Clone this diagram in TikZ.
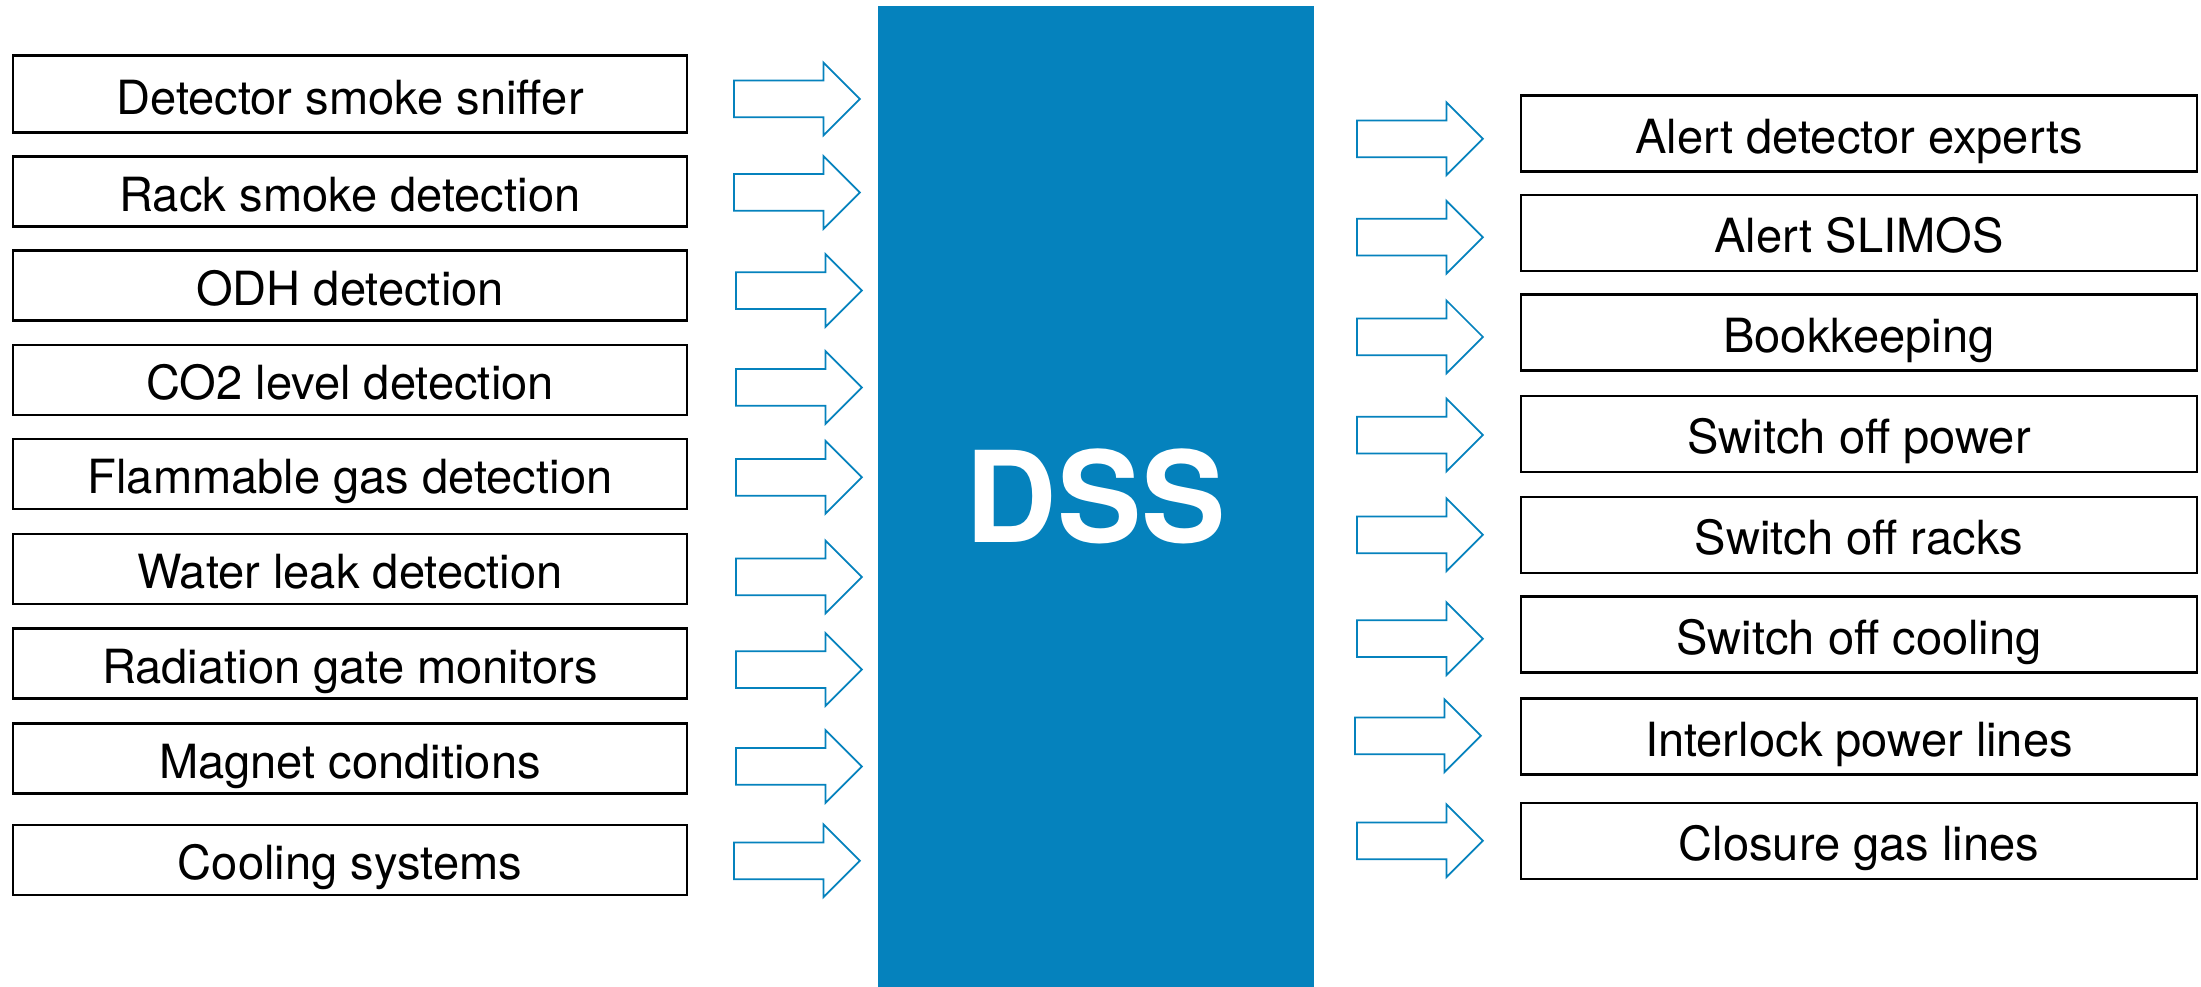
\documentclass[tikz,border=0pt]{standalone}
\usepackage{fontspec}
\setmainfont{TeX Gyre Heros}
\definecolor{dssblue}{HTML}{0582BD}
\usetikzlibrary{shapes.arrows,positioning}

\begin{document}
\begin{tikzpicture}[
  inbox/.style={draw=black, line width=0.7pt, minimum width=6.74cm,
    minimum height=0.70cm, inner sep=0pt, text height=0.4cm, text depth=0pt,
    font=\fontsize{13.4}{16}\selectfont},
  outbox/.style={inbox, minimum width=6.76cm, minimum height=0.76cm},
  flow/.style={single arrow, draw=dssblue, line width=0.5pt, fill=white,
    minimum height=1.26cm, minimum width=0.71cm, inner xsep=0pt,
    inner ysep=0.175cm, single arrow head extend=0.18cm, anchor=tail}
]
  \useasboundingbox (0,0) rectangle (22.01,9.87);

  % Central block
  \node[fill=dssblue, minimum width=4.36cm, minimum height=9.81cm, inner sep=0pt,
    text=white, font=\fontsize{36}{40}\selectfont\bfseries] (dss) at (10.96,4.905) {DSS};

  % Inputs on the left
  \node[inbox, minimum height=0.77cm] (sniffer) at (3.50,8.928) {Detector smoke sniffer};
  \node[inbox] (racksmoke) at (3.50,7.953) {Rack smoke detection};
  \node[inbox] (odh) at (3.50,7.013) {ODH detection};
  \node[inbox] (co2) at (3.50,6.07) {CO2 level detection};
  \node[inbox] (flamgas) at (3.50,5.13) {Flammable gas detection};
  \node[inbox] (waterleak) at (3.50,4.18) {Water leak detection};
  \node[inbox] (radgate) at (3.50,3.235) {Radiation gate monitors};
  \node[inbox] (magnet) at (3.50,2.285) {Magnet conditions};
  \node[inbox] (cooling) at (3.50,1.27) {Cooling systems};

  % Arrows into the block
  \node[flow] (a-sniffer) at (7.33,8.88) {};
  \node[flow] (a-racksmoke) at (7.33,7.945) {};
  \node[flow] (a-odh) at (7.35,6.964) {};
  \node[flow] (a-co2) at (7.35,5.996) {};
  \node[flow] (a-flamgas) at (7.35,5.097) {};
  \node[flow] (a-waterleak) at (7.35,4.10) {};
  \node[flow] (a-radgate) at (7.35,3.174) {};
  \node[flow] (a-magnet) at (7.35,2.206) {};
  \node[flow] (a-cooling) at (7.33,1.262) {};

  % Actions on the right
  \node[outbox] (alertexp) at (18.59,8.533) {Alert detector experts};
  \node[outbox] (slimos) at (18.59,7.54) {Alert SLIMOS};
  \node[outbox] (bookkeep) at (18.59,6.543) {Bookkeeping};
  \node[outbox] (offpower) at (18.59,5.532) {Switch off power};
  \node[outbox] (offracks) at (18.59,4.522) {Switch off racks};
  \node[outbox] (offcooling) at (18.59,3.525) {Switch off cooling};
  \node[outbox] (interlock) at (18.59,2.503) {Interlock power lines};
  \node[outbox] (gaslines) at (18.59,1.462) {Closure gas lines};

  % Arrows out of the block
  \node[flow] (a-alertexp) at (13.56,8.482) {};
  \node[flow] (a-slimos) at (13.56,7.498) {};
  \node[flow] (a-bookkeep) at (13.56,6.501) {};
  \node[flow] (a-offpower) at (13.56,5.519) {};
  \node[flow] (a-offracks) at (13.56,4.522) {};
  \node[flow] (a-offcooling) at (13.56,3.483) {};
  \node[flow] (a-interlock) at (13.54,2.512) {};
  \node[flow] (a-gaslines) at (13.56,1.462) {};
\end{tikzpicture}
\end{document}
